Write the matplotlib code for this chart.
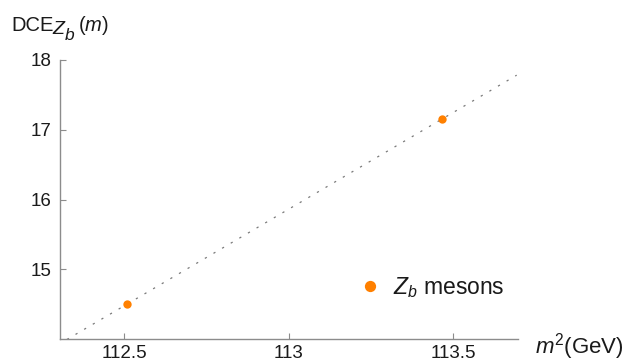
import matplotlib

matplotlib.use("Agg")

import matplotlib.pyplot as plt
import numpy as np

plt.rcParams["font.family"] = ["Liberation Sans", "DejaVu Sans"]
plt.rcParams["mathtext.fontset"] = "custom"
plt.rcParams["mathtext.rm"] = "Liberation Sans"
plt.rcParams["mathtext.it"] = "Liberation Sans:italic"

# masses ao quadrado (GeV) e valores de DCE dos mesons Z_b
m2_zb = [112.51, 113.467]
dce_zb = [14.5, 17.15]

# reta de ajuste DCE = a + b * m^2
ajuste_a = -297.15
ajuste_b = 2.77
ajuste_xmin, ajuste_xmax = 112.326, 113.694

x_ticks = [112.5, 113.0, 113.5]
x_ticklabels = ["112.5", "113", "113.5"]
y_ticks = [15, 16, 17, 18]

COR_EIXO = "#8c8c8c"
COR_TEXTO = "#1a1a1a"
COR_PONTO = "#ff8000"

W, H = 628, 363
fig = plt.figure(figsize=(W / 100, H / 100), dpi=100)
ax = fig.add_axes([60 / W, 24 / H, 458 / W, 279 / H])

xs = np.linspace(ajuste_xmin, ajuste_xmax, 50)
ax.plot(xs, ajuste_a + ajuste_b * xs, color="#7a7a7a", lw=0.9,
        linestyle=(0, (1.8, 6.2)), zorder=2)
ax.plot(m2_zb, dce_zb, "o", color=COR_PONTO, ms=6, mec="none", zorder=3,
        label=r"$Z_b$ mesons")

ax.set_xlim(112.305, 113.698)
ax.set_ylim(14.0, 18.0)
ax.set_xticks(x_ticks, x_ticklabels)
ax.set_yticks(y_ticks)

for lado in ["top", "right"]:
    ax.spines[lado].set_visible(False)
for lado in ["left", "bottom"]:
    ax.spines[lado].set_color(COR_EIXO)
    ax.spines[lado].set_linewidth(1.0)
ax.tick_params(direction="in", length=4, width=0.8, color=COR_EIXO,
               labelsize=13.5, labelcolor=COR_TEXTO)
ax.tick_params(axis="x", pad=4.5)
ax.tick_params(axis="y", pad=6)

ax.legend(loc="center left", bbox_to_anchor=(0.651, 0.183), frameon=False,
          fontsize=16.5, handlelength=1.0, handletextpad=0.5, borderpad=0,
          borderaxespad=0, markerscale=1.35, labelcolor=COR_TEXTO)

# rotulo do eixo y montado em partes: DCE, Z_b em subscrito grande, (m)
def px(x, y):
    return x / W, 1 - y / H

fig.text(*px(11, 31), "DCE", fontsize=14.5, color=COR_TEXTO, va="baseline")
fig.text(*px(52, 34), "Z", fontsize=14, style="italic", color=COR_TEXTO,
         va="baseline")
fig.text(*px(65, 40), "b", fontsize=12.5, style="italic", color=COR_TEXTO,
         va="baseline")
fig.text(*px(78, 31), r"($m$)", fontsize=14.5, color=COR_TEXTO, va="baseline")

fig.text(*px(535, 353), r"$m^2$(GeV)", fontsize=16, color=COR_TEXTO,
         va="baseline")

fig.savefig("out.png", dpi=100)
plt.close(fig)
